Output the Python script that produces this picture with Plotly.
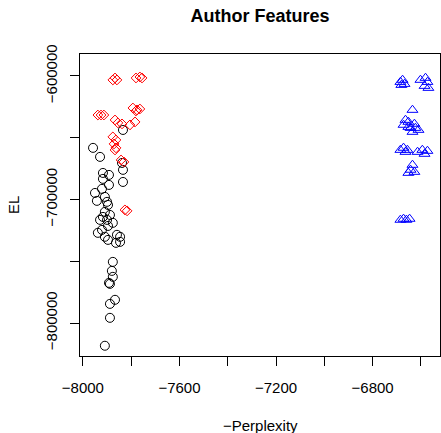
import plotly.graph_objects as go

# Black circles
black_x = [-7834, -7958, -7929, -7838, -7834, -7917, -7892, -7917, -7892, -7834,
           -7950, -7921, -7942, -7909, -7900, -7896, -7909, -7917, -7888, -7929,
           -7900, -7876, -7896, -7921, -7938, -7909, -7859, -7846, -7896, -7863,
           -7846, -7876, -7880, -7876, -7892, -7888, -7867, -7888, -7888, -7909]
black_y = [-643700, -658200, -665500, -670400, -676000, -678500, -680100, -683300, -688200, -685800,
           -694700, -691400, -701100, -697900, -701900, -704400, -710000, -714100, -712500, -716500,
           -716500, -718900, -721400, -724600, -727000, -730200, -728600, -730200, -732700, -735100,
           -734300, -750500, -757800, -762600, -767500, -768300, -781200, -784500, -795800, -818400]

# Red diamonds
red_x = [-7876, -7867, -7859, -7780, -7764, -7755, -7938, -7925, -7913, -7793,
         -7776, -7764, -7780, -7867, -7855, -7838, -7805, -7784, -7876, -7863,
         -7871, -7863, -7867, -7842, -7830, -7826, -7817]
red_y = [-603200, -601600, -603200, -601600, -600800, -601600, -631600, -631600, -631600, -625900,
         -627500, -626700, -628300, -635600, -638000, -638800, -639600, -637200, -649300, -651800,
         -655000, -658200, -659900, -668000, -669600, -708400, -709200]

# Blue triangles
blue_x = [-6685, -6676, -6668, -6681, -6602, -6581, -6573, -6585, -6569, -6635,
          -6664, -6652, -6672, -6643, -6627, -6610, -6635, -6652, -6623, -6685,
          -6672, -6664, -6656, -6614, -6594, -6573, -6585, -6635, -6643, -6627,
          -6652, -6685, -6672, -6660, -6647]
blue_y = [-604900, -603200, -606500, -607300, -603200, -601600, -604900, -608100, -609700, -627500,
          -635600, -637200, -639600, -642100, -638800, -643700, -645300, -641300, -642100, -659900,
          -658200, -661500, -659900, -661500, -659900, -660700, -663100, -672000, -676000, -677700,
          -678500, -716500, -715700, -716500, -715700]

x_tickvals = [-8000, -7800, -7600, -7400, -7200, -7000, -6800, -6600]
x_ticktext = ["\u22128000", "", "\u22127600", "", "\u22127200", "", "\u22126800", ""]
y_tickvals = [-600000, -650000, -700000, -750000, -800000]
y_ticktext = ["\u2212600000", "", "\u2212700000", "", "\u2212800000"]

FONT = "Liberation Sans, Arial, sans-serif"

fig = go.Figure()
fig.add_trace(go.Scatter(x=black_x, y=black_y, mode="markers",
                         marker=dict(symbol="circle-open", size=9, color="black", line=dict(width=1))))
fig.add_trace(go.Scatter(x=red_x, y=red_y, mode="markers",
                         marker=dict(symbol="diamond-open", size=7.5, color="red", line=dict(width=1))))
fig.add_trace(go.Scatter(x=blue_x, y=blue_y, mode="markers",
                         marker=dict(symbol="triangle-up-open", size=9.5, color="blue", line=dict(width=1))))

fig.update_layout(
    width=441, height=433,
    margin=dict(l=80, r=1, t=54, b=77, autoexpand=False),
    paper_bgcolor="white", plot_bgcolor="white",
    showlegend=False,
    font=dict(family=FONT, size=15, color="black"),
    title=dict(text="<b>Author Features</b>", x=260 / 441, xanchor="center",
               y=1 - 16 / 433, yanchor="middle", yref="container",
               font=dict(family=FONT, size=18, color="black")),
    xaxis=dict(range=[-8012, -6521], tickvals=x_tickvals, ticktext=x_ticktext,
               showgrid=False, zeroline=False, showline=True, mirror=True,
               linecolor="black", linewidth=1, ticks="outside", ticklen=9,
               tickcolor="black", tickfont=dict(family=FONT, size=15),
               ticklabelstandoff=9, automargin=False),
    yaxis=dict(range=[-826700, -582200], tickvals=y_tickvals, ticktext=y_ticktext,
               showgrid=False, zeroline=False, showline=True, mirror=True,
               linecolor="black", linewidth=1, ticks="outside", ticklen=9,
               tickcolor="black", tickangle=-90, tickfont=dict(family=FONT, size=15),
               ticklabelstandoff=7, automargin=False),
    annotations=[
        dict(text="\u2212Perplexity", xref="paper", yref="paper", x=0.5, y=0,
             xanchor="center", yanchor="middle", yshift=-69, showarrow=False,
             font=dict(family=FONT, size=15)),
        dict(text="EL", xref="paper", yref="paper", x=0, y=0.5,
             xanchor="center", yanchor="middle", xshift=-67, textangle=-90,
             showarrow=False, font=dict(family=FONT, size=15)),
    ],
)

fig.write_html("out.html", config={"displayModeBar": False},
               post_script="document.body.style.margin='0';document.body.style.overflow='hidden';")
